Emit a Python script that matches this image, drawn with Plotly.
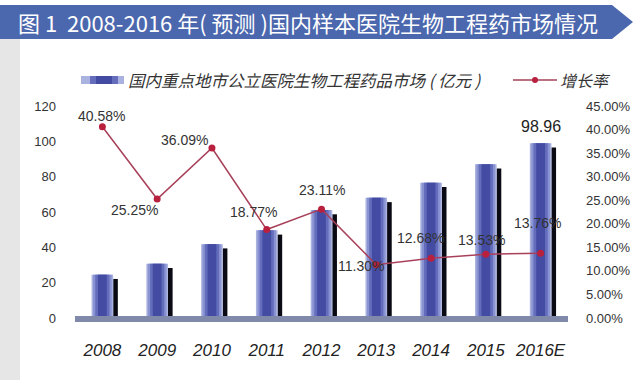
import plotly.graph_objects as go

years = ["2008", "2009", "2010", "2011", "2012", "2013", "2014", "2015", "2016E"]
market = [24.5, 30.7, 41.8, 49.6, 61.1, 68.0, 76.6, 87.0, 98.96]
growth = [40.58, 25.25, 36.09, 18.77, 23.11, 11.30, 12.68, 13.53, 13.76]
growth_labels = ["40.58%", "25.25%", "36.09%", "18.77%", "23.11%", "11.30%", "12.68%", "13.53%", "13.76%"]
label_shift = [(-1, 11), (-23, -11), (-27, 8), (-13, 18), (0, 19), (-15, -1), (-11, 20), (-4, 14), (-3, 30)]
left_ticks = [0, 20, 40, 60, 80, 100, 120]
right_ticks = [0, 5, 10, 15, 20, 25, 30, 35, 40, 45]
right_tick_text = ["0.00%", "5.00%", "10.00%", "15.00%", "20.00%", "25.00%", "30.00%", "35.00%", "40.00%", "45.00%"]
title_text = "图 1  2008-2016 年( 预测 )国内样本医院生物工程药市场情况"
legend_bar = "国内重点地市公立医院生物工程药品市场 ( 亿元 )"
legend_line = "增长率"

W, H = 641, 380
L, R, T, B = 75, 568, 106, 318

def px(x):
    return (x - L) / (R - L)

def py(y):
    return (B - y) / (B - T)

fig = go.Figure()

# shadow bars (black, to the right, slightly lower)
fig.add_trace(go.Bar(x=years, y=market, base=-2.4, width=0.085, offset=0.197,
                     marker=dict(color="#0a0a14", line=dict(width=0)), hoverinfo="skip"))
# cylinder-like layered bars
for w, c in [(0.394, "#aab2e0"), (0.34, "#8a93d2"), (0.26, "#636dbc"), (0.16, "#434ca2")]:
    fig.add_trace(go.Bar(x=years, y=market, width=w, marker=dict(color=c, line=dict(width=0)),
                         hoverinfo="skip"))

fig.add_trace(go.Scatter(x=years, y=growth, yaxis="y2", mode="lines+markers",
                         line=dict(color="#a8405a", width=1.5),
                         marker=dict(color="#b8203e", size=7)))

annotations = []
for i, (g, t, (dx, dy)) in enumerate(zip(growth, growth_labels, label_shift)):
    annotations.append(dict(x=i, y=g, xref="x", yref="y2", text=t, showarrow=False,
                            xshift=dx, yshift=dy,
                            font=dict(family="Liberation Sans, Arial", size=14, color="#333333")))
annotations.append(dict(x=len(years) - 1, y=market[-1], xref="x", yref="y", text="98.96", showarrow=False,
                        yshift=17, font=dict(family="Liberation Sans, Arial", size=16, color="#222222")))
# title
annotations.append(dict(x=px(16), y=py(22), xref="paper", yref="paper", text=title_text, showarrow=False,
                        xanchor="left", yanchor="middle",
                        font=dict(family="Noto Sans CJK SC", size=22, color="#ffffff")))
# legend texts
annotations.append(dict(x=px(126), y=py(80), xref="paper", yref="paper", text=legend_bar,
                        showarrow=False, xanchor="left", yanchor="middle",
                        font=dict(family="Noto Sans CJK SC", size=16.5, color="#333333", style="italic")))
annotations.append(dict(x=px(558), y=py(80), xref="paper", yref="paper", text=legend_line,
                        showarrow=False, xanchor="left", yanchor="middle",
                        font=dict(family="Noto Sans CJK SC", size=16, color="#333333", style="italic")))

shapes = [
    # left gray strip
    dict(type="rect", xref="paper", yref="paper", x0=px(0), x1=px(20), y0=py(380), y1=py(38),
         fillcolor="#e6e6e6", line=dict(width=0), layer="below"),
    # title banner arrow
    dict(type="path", xref="paper", yref="paper",
         path=f"M {px(0)},{py(5)} L {px(612)},{py(5)} L {px(633)},{py(22)} L {px(612)},{py(39)} L {px(0)},{py(39)} Z",
         fillcolor="#4b67ae", line=dict(width=0), layer="below"),
    # baseline band
    dict(type="rect", xref="paper", yref="paper", x0=0, x1=1, y0=py(322), y1=py(316),
         fillcolor="#8189ab", line=dict(width=0), layer="above"),
    # legend bar swatch
    dict(type="rect", xref="paper", yref="paper", x0=px(81), x1=px(124), y0=py(84), y1=py(76),
         fillcolor="#aab2e0", line=dict(width=0)),
    dict(type="rect", xref="paper", yref="paper", x0=px(90), x1=px(118), y0=py(84), y1=py(76),
         fillcolor="#636dbc", line=dict(width=0)),
    dict(type="rect", xref="paper", yref="paper", x0=px(96), x1=px(112), y0=py(84), y1=py(76),
         fillcolor="#434ca2", line=dict(width=0)),
    # legend line
    dict(type="line", xref="paper", yref="paper", x0=px(513), x1=px(557), y0=py(80), y1=py(80),
         line=dict(color="#a8405a", width=1.5)),
    dict(type="circle", xref="paper", yref="paper", x0=px(532), x1=px(538), y0=py(83), y1=py(77),
         fillcolor="#b8203e", line=dict(width=0)),
]

fig.update_layout(
    width=W, height=H,
    margin=dict(l=L, r=W - R, t=T, b=H - B, pad=0),
    paper_bgcolor="#ffffff", plot_bgcolor="rgba(0,0,0,0)",
    barmode="overlay", showlegend=False, bargap=0.2,
    xaxis=dict(type="category", range=[-0.5, len(years) - 0.5], automargin=False,
               showgrid=False, zeroline=False, showline=False, ticks="",
               tickfont=dict(family="Liberation Sans, Arial", size=17, color="#222222", style="italic"),
               ticklabelstandoff=20),
    yaxis=dict(range=[0, 120], tickvals=left_ticks, showgrid=False, zeroline=False, showline=False,
               ticks="", ticklabelstandoff=18, automargin=False,
               tickfont=dict(family="Liberation Sans, Arial", size=13, color="#333333")),
    yaxis2=dict(range=[0, 45], tickvals=right_ticks, ticktext=right_tick_text, overlaying="y", side="right",
                showgrid=False, zeroline=False, showline=False, ticks="", ticklabelstandoff=17,
                automargin=False,
                tickfont=dict(family="Liberation Sans, Arial", size=13, color="#333333")),
    annotations=annotations, shapes=shapes,
)

fig.write_html("out.html", config={"displayModeBar": False},
               post_script="document.body.style.margin='0';document.body.style.padding='0';")
